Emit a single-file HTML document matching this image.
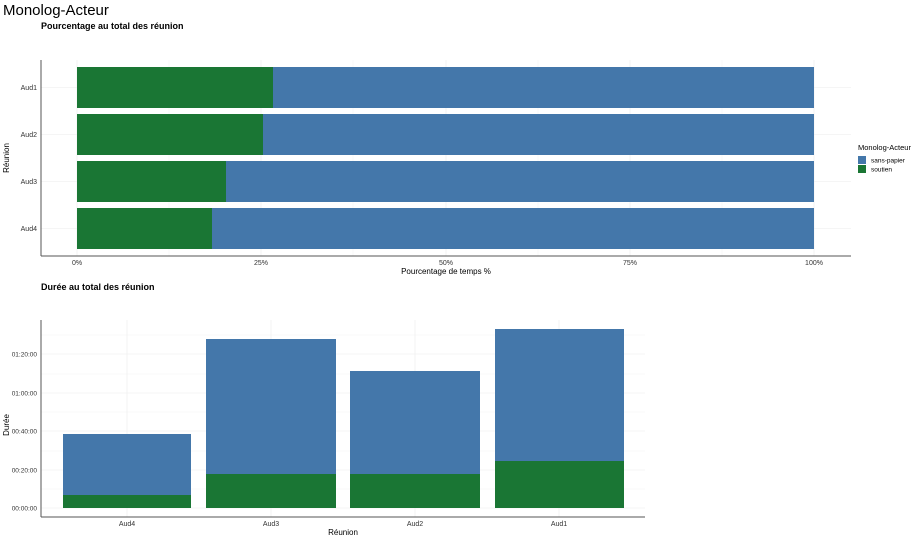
<!DOCTYPE html>
<html><head><meta charset="utf-8"><style>
body{margin:0;background:#fff;}
svg{display:block;font-family:"Liberation Sans",Arial,sans-serif;}
</style></head><body>
<svg width="913" height="538" viewBox="0 0 913 538" xmlns="http://www.w3.org/2000/svg">
<rect width="913" height="538" fill="#fff"/>
<text x="3" y="15" font-size="15" fill="#000">Monolog-Acteur</text>
<text x="41" y="29" font-size="9" font-weight="bold" fill="#000">Pourcentage au total des réunion</text>
<g stroke="#ebebeb" stroke-width="0.6">
<line x1="77" y1="60" x2="77" y2="256"/><line x1="261" y1="60" x2="261" y2="256"/>
<line x1="446" y1="60" x2="446" y2="256"/><line x1="630" y1="60" x2="630" y2="256"/>
<line x1="814" y1="60" x2="814" y2="256"/>
<line x1="169" y1="60" x2="169" y2="256" stroke="#f4f4f4"/><line x1="353" y1="60" x2="353" y2="256" stroke="#f4f4f4"/>
<line x1="538" y1="60" x2="538" y2="256" stroke="#f4f4f4"/><line x1="722" y1="60" x2="722" y2="256" stroke="#f4f4f4"/>
<line x1="41" y1="87.5" x2="851" y2="87.5"/><line x1="41" y1="134.5" x2="851" y2="134.5"/>
<line x1="41" y1="181.5" x2="851" y2="181.5"/><line x1="41" y1="228.5" x2="851" y2="228.5"/>
</g>
<g>
<rect x="77" y="67" width="737" height="41" fill="#4477aa"/><rect x="77" y="67" width="196" height="41" fill="#1a7634"/>
<rect x="77" y="114" width="737" height="41" fill="#4477aa"/><rect x="77" y="114" width="186" height="41" fill="#1a7634"/>
<rect x="77" y="161" width="737" height="41" fill="#4477aa"/><rect x="77" y="161" width="149" height="41" fill="#1a7634"/>
<rect x="77" y="208" width="737" height="41" fill="#4477aa"/><rect x="77" y="208" width="135" height="41" fill="#1a7634"/>
</g>
<g stroke="#555" stroke-width="1">
<line x1="41" y1="60" x2="41" y2="256"/><line x1="41" y1="256" x2="851" y2="256"/>
</g>
<g font-size="7" fill="#333" text-anchor="end">
<text x="37" y="90">Aud1</text><text x="37" y="137">Aud2</text><text x="37" y="184">Aud3</text><text x="37" y="231">Aud4</text>
</g>
<g font-size="7" fill="#333" text-anchor="middle">
<text x="77" y="265">0%</text><text x="261" y="265">25%</text><text x="446" y="265">50%</text><text x="630" y="265">75%</text><text x="814" y="265">100%</text>
</g>
<text x="446" y="274" font-size="8" fill="#000" text-anchor="middle">Pourcentage de temps %</text>
<text transform="translate(9,158) rotate(-90)" font-size="8" fill="#000" text-anchor="middle">Réunion</text>
<text x="858" y="150" font-size="7.5" fill="#000">Monolog-Acteur</text>
<rect x="858" y="156" width="8" height="8" fill="#4477aa"/><text x="871" y="162.5" font-size="6.5" fill="#000">sans-papier</text>
<rect x="858" y="165" width="8" height="8" fill="#1a7634"/><text x="871" y="171.5" font-size="6.5" fill="#000">soutien</text>

<text x="41" y="290" font-size="9" font-weight="bold" fill="#000">Durée au total des réunion</text>
<g stroke="#ebebeb" stroke-width="0.6">
<line x1="41" y1="508" x2="645" y2="508"/><line x1="41" y1="470" x2="645" y2="470"/><line x1="41" y1="431" x2="645" y2="431"/>
<line x1="41" y1="393" x2="645" y2="393"/><line x1="41" y1="354" x2="645" y2="354"/>
<g stroke="#f4f4f4"><line x1="41" y1="489" x2="645" y2="489"/><line x1="41" y1="451" x2="645" y2="451"/>
<line x1="41" y1="412" x2="645" y2="412"/><line x1="41" y1="374" x2="645" y2="374"/><line x1="41" y1="335" x2="645" y2="335"/></g>
<line x1="127" y1="320" x2="127" y2="517"/><line x1="271" y1="320" x2="271" y2="517"/>
<line x1="415" y1="320" x2="415" y2="517"/><line x1="559" y1="320" x2="559" y2="517"/>
</g>
<g>
<rect x="63" y="434" width="128" height="74" fill="#4477aa"/><rect x="63" y="495" width="128" height="13" fill="#1a7634"/>
<rect x="206" y="339" width="130" height="169" fill="#4477aa"/><rect x="206" y="474" width="130" height="34" fill="#1a7634"/>
<rect x="350" y="371" width="130" height="137" fill="#4477aa"/><rect x="350" y="474" width="130" height="34" fill="#1a7634"/>
<rect x="495" y="329" width="129" height="179" fill="#4477aa"/><rect x="495" y="461" width="129" height="47" fill="#1a7634"/>
</g>
<g stroke="#555" stroke-width="1">
<line x1="41" y1="320" x2="41" y2="517"/><line x1="41" y1="517" x2="645" y2="517"/>
</g>
<g font-size="6.5" fill="#333" text-anchor="end">
<text x="37" y="510.5">00:00:00</text><text x="37" y="472.5">00:20:00</text><text x="37" y="433.5">00:40:00</text>
<text x="37" y="395.5">01:00:00</text><text x="37" y="356.5">01:20:00</text>
</g>
<g font-size="7" fill="#333" text-anchor="middle">
<text x="127" y="526">Aud4</text><text x="271" y="526">Aud3</text><text x="415" y="526">Aud2</text><text x="559" y="526">Aud1</text>
</g>
<text x="343" y="535" font-size="8" fill="#000" text-anchor="middle">Réunion</text>
<text transform="translate(9,425) rotate(-90)" font-size="8" fill="#000" text-anchor="middle">Durée</text>
</svg>
</body></html>
